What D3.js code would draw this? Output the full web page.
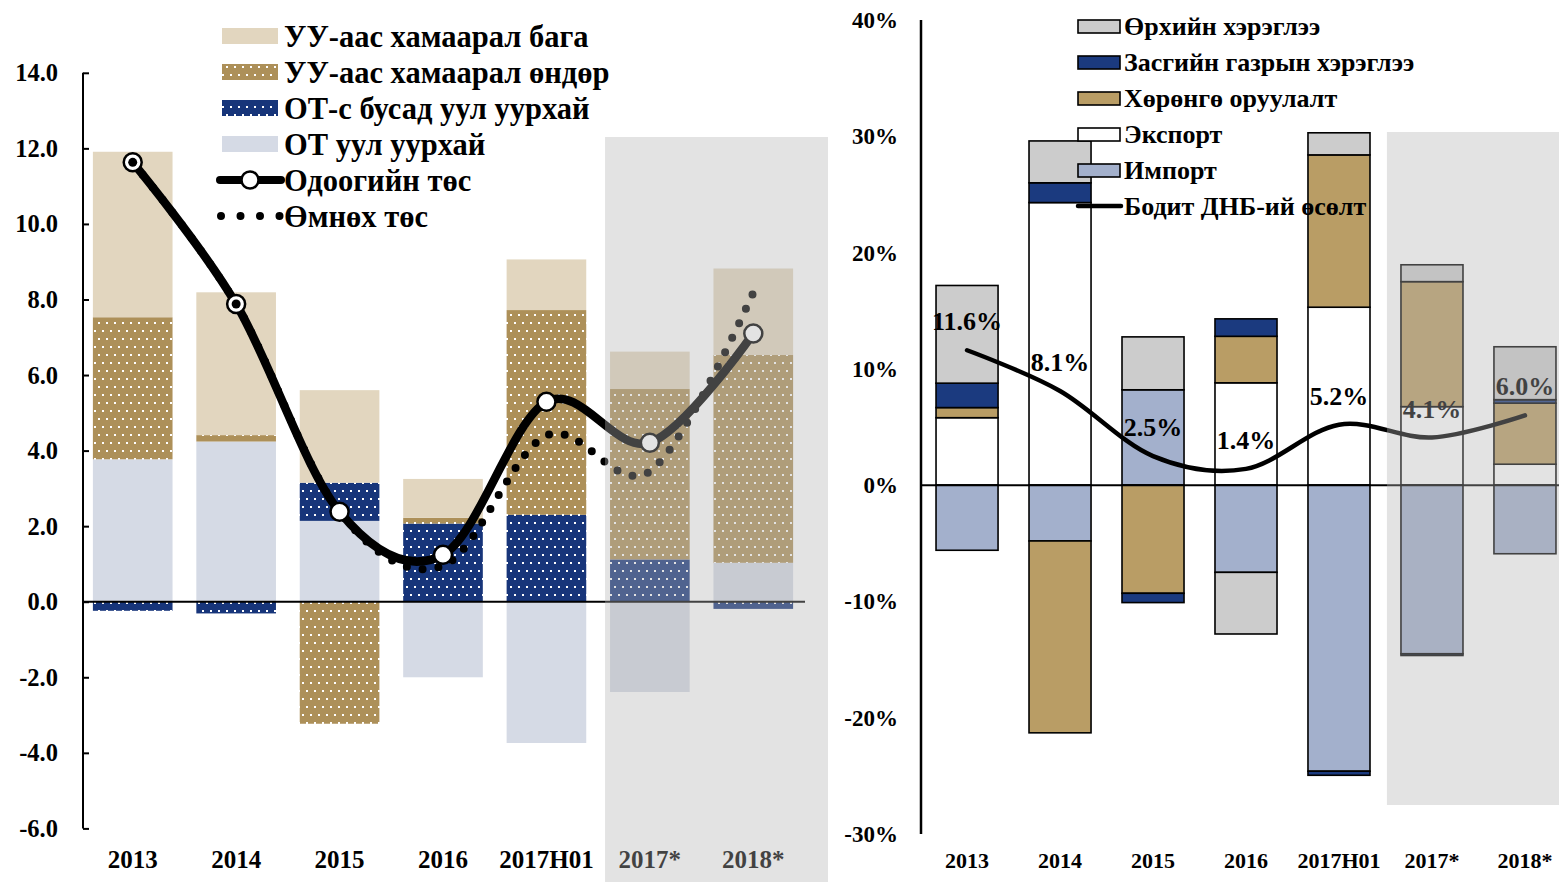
<!DOCTYPE html>
<html>
<head>
<meta charset="utf-8">
<script src="https://cdn.jsdelivr.net/npm/d3@7"></script>
<style>
  body { margin: 0; background: #ffffff; }
  svg text { font-family: "Liberation Serif", "Times New Roman", serif; font-weight: bold; }
</style>
</head>
<body>
<svg id="chart" width="1559" height="882"></svg>
<script>
/*
Data
*/

const categories = ["2013", "2014", "2015", "2016", "2017H01", "2017*", "2018*"];

// Left panel - contributions to budget revenue
const otMining      = [3.77, 4.24, 2.14, -2.00, -3.74, -2.39, 1.03];
const otherMining   = [-0.24, -0.31, 1.01, 2.07, 2.30, 1.12, -0.19];
const highDep       = [3.76, 0.17, -3.23, 0.15, 5.42, 4.51, 5.50];
const lowDep        = [4.38, 3.78, 2.45, 1.03, 1.34, 0.99, 2.29];
const currentBudget = [11.63, 7.88, 2.38, 1.24, 5.29, 4.21, 7.10];
const prevBudget    = [11.63, 7.88, 2.38, 0.95, 4.40, 3.45, 8.18];
const prevMarked    = ["2013", "2014"];
const leftTicks     = [14, 12, 10, 8, 6, 4, 2, 0, -2, -4, -6];

// Right panel - contributions to real GDP growth (%)
const exports     = [5.8, 24.3, 0, 8.8, 15.3, 6.75, 1.8];
const imports     = [-5.6, -4.8, 8.2, -7.5, -24.6, -14.5, -5.9];
const investment  = [0.87, -16.5, -9.3, 4.0, 13.1, 10.75, 5.25];
const government  = [2.1, 1.7, -0.8, 1.5, -0.35, -0.15, 0.3];
const privateCons = [8.4, 3.6, 4.55, -5.3, 1.9, 1.45, 4.55];
const gdpGrowth   = [11.6, 8.1, 2.5, 1.4, 5.2, 4.1, 6.0];
const rightTicks  = [40, 30, 20, 10, 0, -10, -20, -30];

const forecastCats = ["2017*", "2018*"];

/*
Prototype
*/

let BudgetGdpChart = function (config) {
  return this.__init__(config);
};

BudgetGdpChart.prototype = {

  __init__ : function (config) {
    const self = this;
    self.svg = d3.select(config.id);
    self.defs = self.svg.append("defs");
    self.dotPattern("dotsTan", "#ad9059");
    self.dotPattern("dotsNavy", "#17357a");
    self.drawLeft();
    self.drawRight();
    return self;
  },

  dotPattern : function (id, color) {
    const p = this.defs.append("pattern")
      .attr("id", id)
      .attr("patternUnits", "userSpaceOnUse")
      .attr("width", 16).attr("height", 16);
    p.append("rect").attr("width", 16).attr("height", 16).attr("fill", color);
    [[3, 3], [11, 3], [7, 11], [15, 11]].forEach(d => {
      p.append("rect").attr("x", d[0] - 1).attr("y", d[1] - 1)
        .attr("width", 2).attr("height", 2).attr("fill", "#ffffff");
    });
  },

  drawLeft : function () {
    const self = this;
    const g = self.svg.append("g").classed("left", true);

    const x = d3.scaleBand().domain(categories).range([81, 805])
      .paddingInner(0.23).paddingOuter(0.115);
    const y = d3.scaleLinear().domain([-6, 14]).range([828.4, 72.8]);

    const keys = ["ot", "other", "high", "low"];
    const fills = { ot: "#d5dae5", other: "url(#dotsNavy)", high: "url(#dotsTan)", low: "#e2d6bf" };
    const table = categories.map((c, i) => ({
      cat: c, ot: otMining[i], other: otherMining[i], high: highDep[i], low: lowDep[i]
    }));
    const series = d3.stack().keys(keys).offset(d3.stackOffsetDiverging)(table);

    g.append("g").selectAll("g").data(series).join("g")
      .attr("fill", d => fills[d.key])
      .selectAll("rect").data(d => d).join("rect")
      .attr("x", d => x(d.data.cat))
      .attr("width", x.bandwidth())
      .attr("y", d => y(Math.max(d[0], d[1])))
      .attr("height", d => Math.abs(y(d[0]) - y(d[1])));

    // zero line + axis
    g.append("line").attr("x1", 83).attr("x2", 805).attr("y1", y(0)).attr("y2", y(0))
      .attr("stroke", "#000").attr("stroke-width", 2);
    const axis = d3.axisRight(y).tickValues(leftTicks).tickSize(6).tickFormat("");
    g.append("g").attr("transform", "translate(83,0)").call(axis)
      .call(a => a.select(".domain").attr("stroke-width", 2).attr("d", "M0," + y(14) + "V" + y(-6)))
      .call(a => a.selectAll(".tick line").attr("stroke-width", 2));
    g.append("g").selectAll("text").data(leftTicks).join("text")
      .attr("x", 58).attr("y", d => y(d)).attr("dy", "0.35em")
      .attr("text-anchor", "end").attr("font-size", 24.5)
      .text(d => d.toFixed(1));
    g.append("g").selectAll("text").data(categories).join("text")
      .attr("x", d => x(d) + x.bandwidth() / 2).attr("y", 859).attr("dy", "0.35em")
      .attr("text-anchor", "middle").attr("font-size", 25)
      .text(d => d);

    // lines
    const cx = c => x(c) + x.bandwidth() / 2;
    const line = d3.line().x((d, i) => cx(categories[i])).y(d => y(d))
      .curve(d3.curveCatmullRom.alpha(0));
    g.append("path").datum(prevBudget).attr("d", line).attr("fill", "none")
      .attr("stroke", "#000").attr("stroke-width", 8)
      .attr("stroke-linecap", "round").attr("stroke-dasharray", "0 16");
    g.append("path").datum(currentBudget).attr("d", line).attr("fill", "none")
      .attr("stroke", "#000").attr("stroke-width", 8.5);
    g.append("g").selectAll("circle").data(currentBudget).join("circle")
      .attr("cx", (d, i) => cx(categories[i])).attr("cy", d => y(d)).attr("r", 9)
      .attr("fill", "#fff").attr("stroke", "#000").attr("stroke-width", 2.5);
    g.append("g").selectAll("circle").data(prevMarked).join("circle")
      .attr("cx", d => cx(d)).attr("cy", d => y(prevBudget[categories.indexOf(d)]))
      .attr("r", 4.5).attr("fill", "#000");

    // legend
    const leg = g.append("g").attr("font-size", 30.5);
    const rows = [
      { name: "УУ-аас хамаарал бага", fill: fills.low },
      { name: "УУ-аас хамаарал өндөр", fill: fills.high },
      { name: "ОТ-с бусад уул уурхай", fill: fills.other },
      { name: "ОТ уул уурхай", fill: fills.ot }
    ];
    rows.forEach((r, i) => {
      const yy = 36 + i * 36;
      leg.append("rect").attr("x", 222).attr("y", yy - 8).attr("width", 56).attr("height", 16)
        .attr("fill", r.fill);
      leg.append("text").attr("x", 284).attr("y", yy).attr("dy", "0.35em").text(r.name);
    });
    leg.append("line").attr("x1", 220).attr("x2", 281).attr("y1", 180).attr("y2", 180)
      .attr("stroke", "#000").attr("stroke-width", 8).attr("stroke-linecap", "round");
    leg.append("circle").attr("cx", 250).attr("cy", 180).attr("r", 8.5)
      .attr("fill", "#fff").attr("stroke", "#000").attr("stroke-width", 2.5);
    leg.append("text").attr("x", 284).attr("y", 180).attr("dy", "0.35em").text("Одоогийн төс");
    leg.append("line").attr("x1", 221).attr("x2", 280).attr("y1", 216).attr("y2", 216)
      .attr("stroke", "#000").attr("stroke-width", 8).attr("stroke-linecap", "round")
      .attr("stroke-dasharray", "0 19.5");
    leg.append("text").attr("x", 284).attr("y", 216).attr("dy", "0.35em").text("Өмнөх төс");

    // forecast shade
    const x0 = x(forecastCats[0]) - 5;
    g.append("rect").attr("x", x0).attr("y", 137).attr("width", 828 - x0).attr("height", 882 - 137)
      .attr("fill", "#b4b4b4").attr("opacity", 0.37);
  },

  drawRight : function () {
    const self = this;
    const g = self.svg.append("g").classed("right", true);

    const x = d3.scaleBand().domain(categories).range([920.5, 1571.5])
      .paddingInner(0.333).paddingOuter(0.167);
    const y = d3.scaleLinear().domain([-30, 40]).range([834, 20]);

    const keys = ["exp", "imp", "inv", "gov", "priv"];
    const fills = { exp: "#ffffff", imp: "#a3b0cc", inv: "#b99d65", gov: "#1b3a7f", priv: "#cccccc" };
    const table = categories.map((c, i) => ({
      cat: c, exp: exports[i], imp: imports[i], inv: investment[i], gov: government[i], priv: privateCons[i]
    }));
    const series = d3.stack().keys(keys).offset(d3.stackOffsetDiverging)(table);

    g.append("g").selectAll("g").data(series).join("g")
      .attr("fill", d => fills[d.key])
      .selectAll("rect").data(d => d.filter(v => v[0] !== v[1])).join("rect")
      .attr("x", d => x(d.data.cat))
      .attr("width", x.bandwidth())
      .attr("y", d => y(Math.max(d[0], d[1])))
      .attr("height", d => Math.abs(y(d[0]) - y(d[1])))
      .attr("stroke", "#000").attr("stroke-width", 1.6);

    g.append("line").attr("x1", 921).attr("x2", 1559).attr("y1", y(0)).attr("y2", y(0))
      .attr("stroke", "#000").attr("stroke-width", 2);
    g.append("line").attr("x1", 921).attr("x2", 921).attr("y1", y(40)).attr("y2", y(-30))
      .attr("stroke", "#000").attr("stroke-width", 2.5);

    g.append("g").selectAll("text").data(rightTicks).join("text")
      .attr("x", 898).attr("y", d => y(d)).attr("dy", "0.35em")
      .attr("text-anchor", "end").attr("font-size", 23)
      .text(d => d + "%");
    g.append("g").selectAll("text").data(categories).join("text")
      .attr("x", d => x(d) + x.bandwidth() / 2).attr("y", 860).attr("dy", "0.35em")
      .attr("text-anchor", "middle").attr("font-size", 22)
      .text(d => d);

    // GDP growth line
    const cx = c => x(c) + x.bandwidth() / 2;
    const line = d3.line().x((d, i) => cx(categories[i])).y(d => y(d))
      .curve(d3.curveCatmullRom.alpha(0));
    g.append("path").datum(gdpGrowth).attr("d", line).attr("fill", "none")
      .attr("stroke", "#000").attr("stroke-width", 4.5).attr("stroke-linecap", "round");
    g.append("g").selectAll("text").data(gdpGrowth).join("text")
      .attr("x", (d, i) => cx(categories[i])).attr("y", d => y(d) - 29).attr("dy", "0.35em")
      .attr("text-anchor", "middle").attr("font-size", 26)
      .text(d => d.toFixed(1) + "%");

    // legend
    const leg = g.append("g").attr("font-size", 26);
    const rows = [
      { name: "Өрхийн хэрэглээ", fill: fills.priv },
      { name: "Засгийн газрын хэрэглээ", fill: fills.gov },
      { name: "Хөрөнгө оруулалт", fill: fills.inv },
      { name: "Экспорт", fill: fills.exp },
      { name: "Импорт", fill: fills.imp }
    ];
    rows.forEach((r, i) => {
      const yy = 26 + i * 36;
      leg.append("rect").attr("x", 1078).attr("y", yy - 6).attr("width", 42).attr("height", 13)
        .attr("fill", r.fill).attr("stroke", "#000").attr("stroke-width", 1.6);
      leg.append("text").attr("x", 1124).attr("y", yy).attr("dy", "0.35em").text(r.name);
    });
    leg.append("line").attr("x1", 1078).attr("x2", 1121).attr("y1", 206).attr("y2", 206)
      .attr("stroke", "#000").attr("stroke-width", 4.5).attr("stroke-linecap", "round");
    leg.append("text").attr("x", 1124).attr("y", 206).attr("dy", "0.35em").text("Бодит ДНБ-ий өсөлт");

    // forecast shade
    const x0 = x(forecastCats[0]) - 14;
    g.append("rect").attr("x", x0).attr("y", 132).attr("width", 1559 - x0).attr("height", 805 - 132)
      .attr("fill", "#b4b4b4").attr("opacity", 0.37);
  }
};

new BudgetGdpChart({ id: "#chart" });
</script>
</body>
</html>
